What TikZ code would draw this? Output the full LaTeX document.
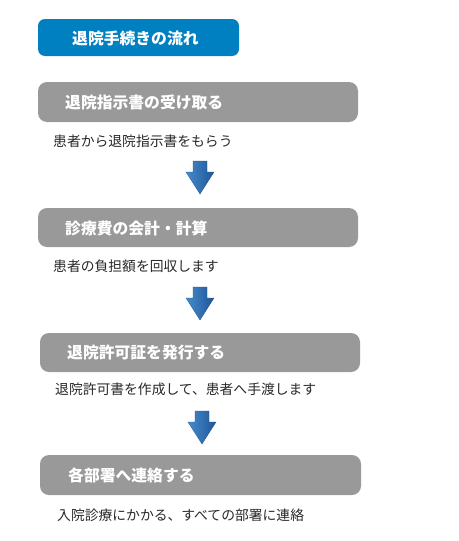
\documentclass[tikz,border=0pt]{standalone}
\usepackage{fontspec}
\setmainfont{Noto Sans CJK JP}
\newfontfamily\jp{Noto Sans CJK JP}
\begin{document}
\begin{tikzpicture}[x=1pt,y=-1pt,
  titlebox/.style={fill={rgb,255:red,0;green,128;blue,192}, rounded corners=7pt},
  stepbox/.style={fill={rgb,255:red,153;green,153;blue,153}, rounded corners=9pt},
  headtext/.style={anchor=west, text=white, font=\jp\bfseries\fontsize{15.8}{17}\selectfont, inner sep=0pt},
  desctext/.style={anchor=west, text={rgb,255:red,40;green,40;blue,40}, font=\jp\fontsize{13.8}{15}\selectfont, inner sep=0pt},
  downarrow/.style={left color={rgb,255:red,70;green,140;blue,205}, right color={rgb,255:red,30;green,85;blue,150}, draw={rgb,255:red,30;green,80;blue,140}, line width=0.3pt}
]
\useasboundingbox (0,0) rectangle (458,541);
% title
\fill[titlebox] (38,19) rectangle (239,56);
\node[headtext] (title) at (72,38) {退院手続きの流れ};
% boxes
\fill[stepbox] (38,82) rectangle (358,122);
\node[headtext] (h1) at (65,102) {退院指示書の受け取る};
\node[desctext] (d1) at (53,141) {患者から退院指示書をもらう};

\fill[stepbox] (38,208) rectangle (358,247);
\node[headtext] (h2) at (65,228) {診療費の会計・計算};
\node[desctext] (d2) at (53,266) {患者の負担額を回収します};

\fill[stepbox] (40,333) rectangle (360,372);
\node[headtext] (h3) at (67,352) {退院許可証を発行する};
\node[desctext] (d3) at (55,389) {退院許可書を作成して、患者へ手渡します};

\fill[stepbox] (40,455) rectangle (361,495);
\node[headtext] (h4) at (68,475) {各部署へ連絡する};
\node[desctext] (d4) at (57,515) {入院診療にかかる、すべての部署に連絡};

% arrows
\foreach \x/\y in {200/161, 200/287, 202/411} {
  \draw[downarrow] (\x-7,\y) -- (\x+7,\y) -- (\x+7,\y+11) -- (\x+14,\y+11) -- (\x,\y+33) -- (\x-14,\y+11) -- (\x-7,\y+11) -- cycle;
}
\end{tikzpicture}
\end{document}
